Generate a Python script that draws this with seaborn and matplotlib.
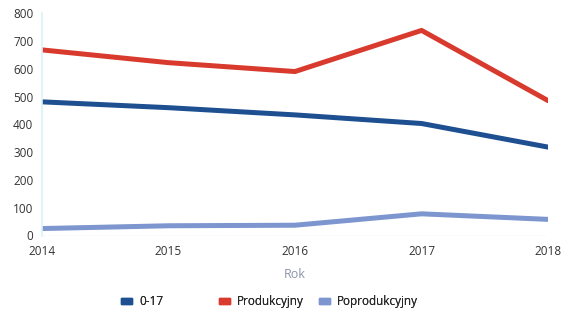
import pandas as pd
import matplotlib.pyplot as plt
import seaborn as sns

# Data
years = [2014, 2015, 2016, 2017, 2018]
age_0_17 = [481, 460, 434, 403, 318]
produkcyjny = [668, 622, 590, 738, 485]
poprodukcyjny = [25, 35, 37, 78, 58]
series_names = ['0-17', 'Produkcyjny', 'Poprodukcyjny']
colors = ['#1d4f91', '#d83a2e', '#7d96cf']

df = pd.DataFrame({'Rok': years, '0-17': age_0_17,
                   'Produkcyjny': produkcyjny, 'Poprodukcyjny': poprodukcyjny})
df = df.melt(id_vars='Rok', var_name='grupa', value_name='liczba')

sns.set_style('white')
plt.rcParams['font.family'] = ['Open Sans', 'DejaVu Sans']

fig, ax = plt.subplots(figsize=(5.64, 3.14), dpi=100)
fig.subplots_adjust(left=0.074, right=0.972, top=0.958, bottom=0.25)

sns.lineplot(data=df, x='Rok', y='liczba', hue='grupa', hue_order=series_names,
             palette=colors, linewidth=3.6, ax=ax, legend=False)

ax.axhline(0, color='#8fa3c8', lw=0.8, ls=(0, (3, 1.5)), zorder=0)
ax.set_xlim(2014, 2018)
ax.set_ylim(0, 800)
ax.set_xticks(years)
ax.set_yticks(range(0, 801, 100))
ax.tick_params(labelsize=8.5, colors='#333333', length=0)
ax.tick_params(axis='x', pad=7)
ax.tick_params(axis='y', pad=6)
ax.set_xlabel('Rok', color='#8a93a8', fontsize=9, labelpad=7)
ax.set_ylabel('')
for side in ['top', 'right', 'bottom']:
    ax.spines[side].set_visible(False)
ax.spines['left'].set_color('#d8f2f7')
ax.spines['left'].set_linewidth(1.2)

# one legend per entry, placed like the reference
leg_x = [0.196, 0.37, 0.547]
for name, c, x in zip(series_names, colors, leg_x):
    h = plt.Rectangle((0, 0), 1, 1, color=c)
    leg = fig.legend([h], [name], loc='center left', frameon=False, fontsize=8.5,
                     handlelength=0.9, handleheight=0.4, handletextpad=0.6,
                     bbox_to_anchor=(x, 0.04))
    fig.add_artist(leg)

fig.savefig('out.png', dpi=100)
